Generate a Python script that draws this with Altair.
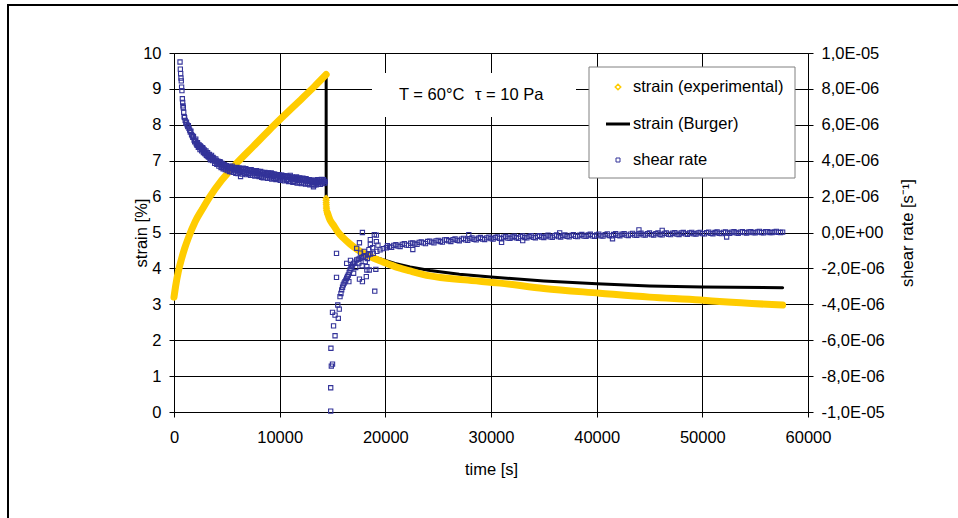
import altair as alt
import pandas as pd

FONT = "Liberation Sans"
YELLOW = "#FFCC00"
NAVY = "#333399"

# ---- strain (experimental): creep under constant stress ----
creep_time_s = [0, 150, 400, 700, 1000, 1360, 2000, 2700, 3400, 4500, 5930,
                7500, 9000, 10500, 12000, 13300, 14400]
creep_strain = [3.2, 3.5, 3.9, 4.25, 4.55, 4.85, 5.3, 5.66, 6.0, 6.45, 6.93,
                7.4, 7.85, 8.28, 8.7, 9.07, 9.4]

# ---- strain (experimental): fast readings right after unloading ----
drop_time_s = [14400, 14400, 14400, 14410, 14420, 14430, 14450, 14480]
drop_strain = [5.95, 5.89, 5.83, 5.77, 5.71, 5.66, 5.61, 5.57]

# ---- strain (experimental): recovery ----
recovery_time_s = [14530, 14760, 15080, 15520, 16020, 16660, 17290, 18080,
                   18860, 19780, 20920, 22340, 24230, 27500, 30850, 35000,
                   40300, 45000, 49800, 52000, 57600]
recovery_strain = [5.54, 5.35, 5.21, 5.01, 4.85, 4.68, 4.54, 4.40,
                   4.29, 4.18, 4.05, 3.93, 3.79, 3.68, 3.59, 3.44,
                   3.31, 3.20, 3.12, 3.07, 2.98]

# ---- strain (Burger model) ----
burger_time_s = [14400, 14400, 14760, 15080, 15520, 16020, 16660, 17290,
                 18080, 18860, 19780, 20920, 22340, 24230, 27000, 30000,
                 35000, 40000, 45000, 50000, 57600]
burger_strain = [9.42, 5.52, 5.35, 5.21, 5.01, 4.85, 4.69, 4.56,
                 4.43, 4.33, 4.24, 4.14, 4.04, 3.94, 3.84, 3.76,
                 3.65, 3.57, 3.51, 3.48, 3.46]

# ---- shear rate (time [s], rate [1e-6 1/s]) while loaded ----
rate_loading = [
    (570, 9.50), (600, 9.10), (630, 8.85), (660, 8.60), (690, 8.45), (720, 8.10),
    (750, 7.90), (790, 7.45), (820, 7.25), (850, 7.05), (880, 6.95), (920, 6.70),
    (960, 6.45), (1000, 6.40), (1060, 6.25), (1120, 6.10), (1180, 6.15),
    (1240, 6.00), (1300, 5.90), (1360, 5.95), (1420, 5.80), (1480, 5.70),
    (1540, 5.60), (1600, 5.65), (1660, 5.45), (1720, 5.40), (1780, 5.30),
    (1840, 5.35), (1900, 5.15), (1960, 5.05), (2020, 5.10), (2100, 4.95),
    (2180, 4.85), (2260, 4.90), (2340, 4.80), (2420, 4.75), (2500, 4.82),
    (2580, 4.70), (2660, 4.62), (2740, 4.68), (2820, 4.50), (2900, 4.42),
    (2980, 4.48), (3060, 4.30), (3140, 4.38), (3220, 4.25), (3300, 4.32),
    (3400, 4.15), (3500, 4.22), (3600, 4.10), (3700, 4.18), (3800, 4.05),
    (3900, 3.95), (4000, 4.02), (4100, 3.88), (4200, 3.95), (4300, 3.82),
    (4400, 3.90), (4500, 3.72), (4600, 3.80), (4700, 3.65), (4800, 3.75),
    (4900, 3.60), (5000, 3.68), (5100, 3.55), (5200, 3.62), (5300, 3.48),
    (5400, 3.58), (5500, 3.70), (5600, 3.52), (5700, 3.45), (5800, 3.60),
    (5900, 3.50), (6000, 3.42), (6100, 3.55), (6200, 3.47), (6300, 3.12),
    (6400, 3.52), (6500, 3.40), (6600, 3.48), (6700, 3.38), (6800, 3.55),
    (6900, 3.35), (7000, 3.45), (7100, 3.30), (7200, 3.42), (7300, 3.50),
    (7400, 3.32), (7500, 3.40), (7600, 3.28), (7700, 3.38), (7800, 3.45),
    (7900, 3.30), (8000, 3.36), (8100, 3.25), (8200, 3.40), (8300, 3.08),
    (8400, 3.32), (8500, 3.22), (8600, 3.35), (8700, 3.28), (8800, 3.18),
    (8900, 3.30), (9000, 3.24), (9100, 3.15), (9200, 3.32), (9300, 3.20),
    (9400, 3.12), (9500, 3.25), (9600, 3.02), (9700, 3.18), (9800, 3.10),
    (9900, 3.22), (10000, 3.14), (10100, 3.05), (10200, 3.20), (10300, 3.12),
    (10400, 3.00), (10500, 3.15), (10600, 3.08), (10700, 2.95), (10800, 3.12),
    (10900, 3.04), (11000, 3.18), (11100, 2.98), (11200, 3.08), (11300, 2.85),
    (11400, 3.05), (11500, 2.96), (11600, 3.10), (11700, 3.00), (11800, 2.90),
    (11900, 3.04), (12000, 2.95), (12100, 2.78), (12200, 3.02), (12300, 2.92),
    (12400, 2.86), (12500, 3.00), (12600, 2.88), (12700, 2.72), (12800, 2.95),
    (12900, 2.84), (13000, 2.92), (13100, 2.80), (13200, 2.55), (13300, 2.90),
    (13400, 2.82), (13500, 2.76), (13600, 2.88), (13700, 2.80), (13800, 2.95),
    (13900, 2.84), (14000, 2.78), (14100, 2.88), (14200, 2.82), (14300, 2.85),
    # second reading channel
    (2060, 5.20), (2140, 4.92), (2220, 5.00), (2300, 4.75), (2380, 4.88),
    (2460, 4.62), (2540, 4.78), (2620, 4.55), (2700, 4.72), (2780, 4.45),
    (2860, 4.60), (2940, 4.38), (3020, 4.55), (3100, 4.28), (3180, 4.45),
    (3260, 4.20), (3350, 4.35), (3450, 4.05), (3550, 4.30), (3650, 4.00),
    (3750, 4.12), (3850, 3.85), (3950, 4.10), (4050, 3.80), (4150, 3.98),
    (4250, 3.70), (4350, 3.95), (4450, 3.62), (4550, 3.85), (4650, 3.55),
    (4750, 3.78), (4850, 3.50), (4950, 3.72), (5050, 3.45), (5150, 3.65),
    (5250, 3.40), (5350, 3.68), (5450, 3.38), (5550, 3.62), (5650, 3.35),
    (5750, 3.58), (5850, 3.30), (5950, 3.62), (6050, 3.28), (6150, 3.60),
    (6250, 3.34), (6350, 3.55), (6450, 3.25), (6550, 3.58), (6650, 3.30),
    (6750, 3.52), (6850, 3.22), (6950, 3.50), (7050, 3.25), (7150, 3.48),
    (7250, 3.18), (7350, 3.46), (7450, 3.20), (7550, 3.45), (7650, 3.15),
    (7750, 3.42), (7850, 3.18), (7950, 3.40), (8050, 3.12), (8150, 3.38),
    (8250, 3.15), (8350, 3.35), (8450, 3.05), (8550, 3.34), (8650, 3.10),
    (8750, 3.32), (8850, 3.02), (8950, 3.30), (9050, 3.05), (9150, 3.28),
    (9250, 2.98), (9350, 3.26), (9450, 3.02), (9550, 3.24), (9650, 2.95),
    (9750, 3.22), (9850, 2.98), (9950, 3.20), (10050, 2.90), (10150, 3.18),
    (10250, 2.94), (10350, 3.16), (10450, 2.88), (10550, 3.14), (10650, 2.90),
    (10750, 3.12), (10850, 2.84), (10950, 3.10), (11050, 2.86), (11150, 3.08),
    (11250, 2.80), (11350, 3.06), (11450, 2.82), (11550, 3.04), (11650, 2.76),
    (11750, 3.02), (11850, 2.78), (11950, 3.00), (12050, 2.72), (12150, 2.98),
    (12250, 2.75), (12350, 2.96), (12450, 2.70), (12550, 2.94), (12650, 2.72),
    (12750, 2.92), (12850, 2.66), (12950, 2.90), (13050, 2.68), (13150, 2.88),
    (13250, 2.64), (13350, 2.86), (13450, 2.66), (13550, 2.95), (13650, 2.70),
    (13750, 2.92), (13850, 2.68), (13950, 2.96), (14050, 2.72), (14150, 2.94),
    (14250, 2.75),
]

# ---- shear rate right after unloading ----
rate_unloading = [
    (14830, -9.95), (14830, -8.65), (14890, -7.44), (15000, -7.33), (14850, -6.45),
    (15240, -5.75), (15100, -5.20), (15550, -4.78), (15240, -4.60), (15000, -4.45),
    (15640, -4.27), (15500, -4.04), (15710, -3.57), (15800, -3.40), (15870, -3.20),
    (15950, -3.05), (16020, -2.92), (16100, -2.82), (16180, -2.74), (16260, -2.65),
    (16340, -2.55), (16420, -2.45), (16500, -2.37), (16580, -2.22), (16656, -2.09),
    (16740, -2.00), (16820, -1.90), (16900, -1.82), (16970, -1.72), (17100, -1.65),
    (17290, -1.53), (17450, -1.48), (17600, -1.44), (17750, -1.40), (17920, -1.35),
    (18100, -1.30), (18400, -1.25), (18600, -1.20), (18860, -1.16), (19200, -1.05),
    (19500, -0.97), (19800, -0.90), (20100, -0.85),
    (15380, -1.16), (15380, -2.50), (16340, -1.72), (17830, 0.00), (17550, -0.57),
    (17290, -0.88), (18960, -0.12), (18580, -0.40), (19150, -0.51), (18580, -0.66),
    (18200, -2.46), (19000, -3.27), (17550, -2.60), (17830, -2.74), (18250, -1.90),
    (19100, -2.05), (18480, -2.09), (18250, -2.09), (16550, -2.74), (17000, -2.27),
    (19150, -0.15), (16700, -1.55), (17200, -1.95), (17500, -1.70), (17800, -1.85),
    (18100, -1.62), (18300, -1.45), (17650, -1.15), (18000, -1.05), (18800, -0.85),
    (18450, -0.95), (19300, -0.70),
]

# ---- shear rate, long recovery tail ----
rate_tail = [
    (20400, -0.80), (20800, -0.72), (21200, -0.76), (21600, -0.66), (22000, -0.70),
    (22400, -0.60), (22800, -0.64), (23200, -0.55), (23600, -0.58), (24000, -0.50),
    (24400, -0.54), (24800, -0.47), (25200, -0.50), (25600, -0.42), (26000, -0.46),
    (26400, -0.40), (26800, -0.44), (27200, -0.37), (27600, -0.41), (28000, -0.34),
    (28400, -0.38), (28800, -0.32), (29200, -0.36), (29600, -0.30), (30000, -0.34),
    (30400, -0.28), (30800, -0.32), (31200, -0.26), (31600, -0.31), (32000, -0.25),
    (32400, -0.29), (32800, -0.23), (33200, -0.28), (33600, -0.22), (34000, -0.27),
    (34400, -0.21), (34800, -0.25), (35200, -0.20), (35600, -0.24), (36000, -0.18),
    (36400, -0.23), (36800, -0.17), (37200, -0.22), (37600, -0.16), (38000, -0.21),
    (38400, -0.15), (38800, -0.20), (39200, -0.14), (39600, -0.19), (40000, -0.13),
    (40400, -0.18), (40800, -0.12), (41200, -0.17), (41600, -0.11), (42000, -0.16),
    (42400, -0.10), (42800, -0.15), (43200, -0.09), (43600, -0.14), (44000, -0.08),
    (44400, -0.13), (44800, -0.07), (45200, -0.12), (45600, -0.06), (46000, -0.11),
    (46400, -0.05), (46800, -0.10), (47200, -0.04), (47600, -0.09), (48000, -0.03),
    (48400, -0.08), (48800, -0.03), (49200, -0.07), (49600, -0.02), (50000, -0.06),
    (50400, -0.01), (50800, -0.05), (51200, 0.00), (51600, -0.04), (52000, 0.01),
    (52400, -0.03), (52800, 0.02), (53200, -0.02), (53600, 0.02), (54000, -0.01),
    (54400, 0.03), (54800, -0.01), (55200, 0.03), (55600, 0.00), (56000, 0.04),
    (56400, 0.00), (56800, 0.03), (57200, 0.01), (57600, 0.02),
    (20200, -0.74), (20600, -0.82), (21000, -0.68), (21400, -0.78), (21800, -0.62),
    (22200, -0.72), (22600, -0.58), (23000, -0.66), (23400, -0.52), (23800, -0.62),
    (24200, -0.48), (24600, -0.58), (25000, -0.44), (25400, -0.54), (25800, -0.40),
    (26200, -0.50), (26600, -0.36), (27000, -0.46), (27400, -0.33), (27800, -0.44),
    (28200, -0.30), (28600, -0.41), (29000, -0.28), (29400, -0.39), (29800, -0.26),
    (30200, -0.37), (30600, -0.24), (31000, -0.35), (31400, -0.22), (31800, -0.33),
    (32200, -0.21), (32600, -0.32), (33000, -0.19), (33400, -0.30), (33800, -0.18),
    (34200, -0.29), (34600, -0.17), (35000, -0.28), (35400, -0.15), (35800, -0.27),
    (36200, -0.14), (36600, -0.25), (37000, -0.13), (37400, -0.24), (37800, -0.12),
    (38200, -0.23), (38600, -0.11), (39000, -0.22), (39400, -0.10), (39800, -0.21),
    (40200, -0.09), (40600, -0.20), (41000, -0.08), (41400, -0.19), (41800, -0.07),
    (42200, -0.18), (42600, -0.06), (43000, -0.17), (43400, -0.05), (43800, -0.16),
    (44200, -0.04), (44600, -0.15), (45000, -0.03), (45400, -0.14), (45800, -0.02),
    (46200, -0.13), (46600, -0.02), (47000, -0.12), (47400, -0.01), (47800, -0.11),
    (48200, 0.00), (48600, -0.10), (49000, 0.01), (49400, -0.09), (49800, 0.01),
    (50200, -0.08), (50600, 0.02), (51000, -0.07), (51400, 0.03), (51800, -0.06),
    (52200, 0.03), (52600, -0.05), (53000, 0.04), (53400, -0.04), (53800, 0.05),
    (54200, -0.03), (54600, 0.05), (55000, -0.02), (55400, 0.06), (55800, -0.02),
    (56200, 0.05), (56600, -0.01), (57000, 0.06), (57400, 0.00),
    (22600, -0.95), (27900, -0.12), (31000, -0.55), (36500, -0.02), (41500, -0.35),
    (46200, 0.12), (52300, -0.25), (44000, 0.15), (33000, -0.45),
]

time_ticks = [0, 10000, 20000, 30000, 40000, 50000, 60000]
strain_ticks = [0, 1, 2, 3, 4, 5, 6, 7, 8, 9, 10]
rate_ticks = [-1e-5, -8e-6, -6e-6, -4e-6, -2e-6, 0, 2e-6, 4e-6, 6e-6, 8e-6, 1e-5]

# ---- tables ----
exp_df = pd.concat([
    pd.DataFrame({"time": creep_time_s, "strain": creep_strain, "segment": "creep"}),
    pd.DataFrame({"time": recovery_time_s, "strain": recovery_strain, "segment": "recovery"}),
], ignore_index=True)
exp_df["idx"] = range(len(exp_df))
drop_df = pd.DataFrame({"time": drop_time_s, "strain": drop_strain})
burger_df = pd.DataFrame({"time": burger_time_s, "strain": burger_strain})
burger_df["idx"] = range(len(burger_df))
rate_points = rate_loading + rate_unloading + rate_tail
rate_df = pd.DataFrame({"time": [p[0] for p in rate_points],
                        "rate": [p[1] * 1e-6 for p in rate_points]})
one = pd.DataFrame({"k": [0]})

# ---- scales & axes ----
x_scale = alt.Scale(domain=[0, 60000], nice=False, zero=False)
strain_scale = alt.Scale(domain=[0, 10], nice=False)
rate_scale = alt.Scale(domain=[-1e-5, 1e-5], nice=False)

x_axis = alt.Axis(title="time [s]", values=time_ticks, format="d", grid=True,
                  labelFlush=False, labelOverlap=False, labelPadding=12,
                  titleX=317, titleY=57, titleBaseline="middle")
strain_axis = alt.Axis(title="strain [%]", values=strain_ticks, format="d", grid=True,
                       labelFlush=False, labelOverlap=False, labelPadding=8,
                       titleX=-33, titleY=179.5, titleAngle=-90,
                       titleAlign="center", titleBaseline="middle")
rate_label = (
    "datum.value == 0 ? '0,0E+00' : "
    "(datum.value < 0 ? '-' : '') + "
    "replace(format(abs(datum.value) / pow(10, floor(log(abs(datum.value)) / LN10 + 1e-6)), '.1f'), '.', ',')"
    " + 'E' + (floor(log(abs(datum.value)) / LN10 + 1e-6) < 0 ? '-' : '+') + "
    "pad(toString(abs(floor(log(abs(datum.value)) / LN10 + 1e-6))), 2, '0', 'left')"
)
rate_axis = alt.Axis(title="shear rate [s⁻¹]", orient="right", values=rate_ticks,
                     labelExpr=rate_label, grid=False, labelFlush=False,
                     labelOverlap=False, labelPadding=8,
                     titleX=99, titleY=179.5, titleAngle=-90,
                     titleAlign="center", titleBaseline="middle")

x_enc = alt.X("time:Q", scale=x_scale, axis=x_axis)

# ---- decorations ----
frame = alt.Chart(one).mark_rect(fillOpacity=0, stroke="black", strokeWidth=2).encode(
    x=alt.value(-166), x2=alt.value(820), y=alt.value(-48), y2=alt.value(490))
note_box = alt.Chart(one).mark_rect(color="white").encode(
    x=alt.value(198), x2=alt.value(402), y=alt.value(20), y2=alt.value(64))

# ---- strain series ----
burger = alt.Chart(burger_df).mark_line(color="black", strokeWidth=3, strokeCap="round").encode(
    x=x_enc,
    y=alt.Y("strain:Q", scale=strain_scale, axis=strain_axis),
    order="idx:Q")
exp_line = alt.Chart(exp_df).mark_line(
    color=YELLOW, strokeWidth=7, strokeCap="round", strokeJoin="round",
    interpolate="monotone").encode(
    x=x_enc,
    y=alt.Y("strain:Q", scale=strain_scale, axis=strain_axis),
    detail="segment:N", order="idx:Q")
exp_drop = alt.Chart(drop_df).mark_point(
    shape="diamond", filled=False, color=YELLOW, size=28, strokeWidth=1.6, opacity=1).encode(
    x=x_enc,
    y=alt.Y("strain:Q", scale=strain_scale, axis=strain_axis))
strain_layers = alt.layer(burger, exp_line, exp_drop)

# ---- shear rate series ----
rate = alt.Chart(rate_df).mark_point(
    shape="square", filled=False, color=NAVY, size=18, strokeWidth=1.1, opacity=1).encode(
    x=x_enc,
    y=alt.Y("rate:Q", scale=rate_scale, axis=rate_axis))

# ---- legend ----
legend_box = alt.Chart(one).mark_rect(fill="white", stroke="#808080", strokeWidth=1).encode(
    x=alt.value(415), x2=alt.value(621), y=alt.value(14), y2=alt.value(125))
leg_diamond = alt.Chart(one).mark_point(
    shape="diamond", filled=False, color=YELLOW, size=30, strokeWidth=1.5, opacity=1).encode(
    x=alt.value(444), y=alt.value(34))
leg_line = alt.Chart(one).mark_rule(color="black", strokeWidth=3).encode(
    x=alt.value(432), x2=alt.value(456), y=alt.value(71))
leg_square = alt.Chart(one).mark_point(
    shape="square", filled=False, color=NAVY, size=16, strokeWidth=1, opacity=1).encode(
    x=alt.value(444), y=alt.value(107))


def label(text, x, y):
    return alt.Chart(one).mark_text(
        text=text, align="left", baseline="middle", font=FONT, fontSize=16.5,
        color="black").encode(x=alt.value(x), y=alt.value(y))


chart = alt.layer(
    frame, note_box, strain_layers, rate,
    legend_box, leg_diamond, leg_line, leg_square,
    label("strain (experimental)", 459, 34),
    label("strain (Burger)", 459, 71),
    label("shear rate", 459, 107),
    label("T = 60°C", 225, 42),
    label("τ = 10 Pa", 301, 42),
).resolve_scale(
    y="independent"
).properties(
    width=634, height=359,
    padding={"left": 174, "top": 53, "right": 150, "bottom": 106},
    autosize=alt.AutoSizeParams(type="none"),
    background="white",
).configure_view(
    stroke=None
).configure_axis(
    labelFont=FONT, titleFont=FONT, labelFontSize=16.5, titleFontSize=16.5,
    labelColor="black", titleColor="black", titleFontWeight="normal",
    domainColor="black", tickColor="black", gridColor="black", gridOpacity=1,
    tickSize=5, domainWidth=1, tickWidth=1, gridWidth=1,
)

chart.save("out.html", embed_options={"renderer": "svg", "actions": False})
